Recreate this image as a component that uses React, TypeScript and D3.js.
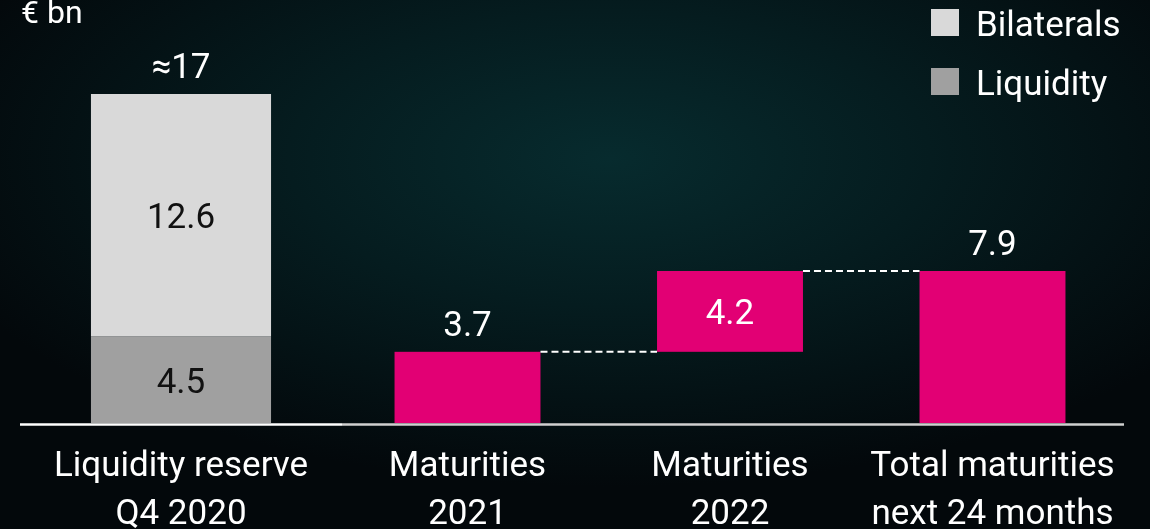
import React from "react";
import * as d3 from "d3";

const W = 1150;
const H = 529;

// ---- data ----
const reserveCategory = ["Liquidity reserve\nQ4 2020"];
const reserveLiquidity = [4.5];
const reserveBilaterals = [12.6];
const reserveTotalLabel = ["≈17"];

const maturityCategories = ["Maturities\n2021", "Maturities\n2022", "Total maturities\nnext 24 months"];
const maturityValues = [3.7, 4.2, 7.9];
const maturityIsTotal = [false, false, true];

const legendLabels = ["Bilaterals", "Liquidity"];

const C_MAGENTA = "#e20074";
const C_BILAT = "#d9d9d9";
const C_LIQ = "#a0a0a0";
const FONT = "Roboto, 'Open Sans', sans-serif";
const FW = 400;

export default function App() {
  const y = d3.scaleLinear().domain([0, 18]).range([423, 423 - 18 * 19.24]);

  const x1 = d3.scaleBand<string>().domain(reserveCategory).range([20, 342]).paddingInner(0).paddingOuter(0.394);
  const x2 = d3
    .scaleBand<string>()
    .domain(maturityCategories)
    .range([336, 1124])
    .paddingInner(0.444)
    .paddingOuter(0.223);

  // waterfall bases
  let running = 0;
  const wf = maturityCategories.map((c, i) => {
    const v = maturityValues[i];
    let base = 0;
    if (!maturityIsTotal[i]) {
      base = running;
      running += v;
    }
    return { c, v, base, top: base + v };
  });

  const fs = 35;
  const labelY1 = 476;
  const labelY2 = 524;

  const renderCatLabel = (text: string, cx: number, key: string) => {
    const lines = text.split("\n");
    return (
      <text key={key} x={cx} textAnchor="middle" fill="#ffffff" fontSize={fs} fontWeight={FW} fontFamily={FONT}>
        <tspan x={cx} y={labelY1}>{lines[0]}</tspan>
        <tspan x={cx} y={labelY2}>{lines[1]}</tspan>
      </text>
    );
  };

  const rc = reserveCategory[0];
  const rx = x1(rc)!;
  const rw = x1.bandwidth();
  const liqTop = y(reserveLiquidity[0]);
  const bilTop = y(reserveLiquidity[0] + reserveBilaterals[0]);

  return (
    <svg
      width={W}
      height={H}
      style={{ position: "fixed", left: 0, top: 0, display: "block" }}
      xmlns="http://www.w3.org/2000/svg"
    >
      <defs>
        <radialGradient id="bg" cx="53%" cy="30%" r="62%" gradientUnits="objectBoundingBox">
          <stop offset="0%" stopColor="#072b2e" />
          <stop offset="45%" stopColor="#051c1f" />
          <stop offset="100%" stopColor="#03080b" />
        </radialGradient>
      </defs>
      <rect x={0} y={0} width={W} height={H} fill="url(#bg)" />

      {/* unit */}
      <text x={21} y={23} fill="#fff" fontSize={32} fontWeight={FW} fontFamily={FONT}>€ bn</text>

      {/* legend */}
      {legendLabels.map((l, i) => (
        <g key={l}>
          <rect x={931} y={9 + i * 59} width={28} height={27} fill={i === 0 ? C_BILAT : C_LIQ} />
          <text x={976} y={36 + i * 59} fill="#fff" fontSize={fs} fontWeight={FW} fontFamily={FONT}>{l}</text>
        </g>
      ))}

      {/* reserve stacked bar */}
      <rect x={rx} y={liqTop} width={rw} height={y(0) - liqTop} fill={C_LIQ} />
      <rect x={rx} y={bilTop} width={rw} height={liqTop - bilTop} fill={C_BILAT} />
      <text x={rx + rw / 2} y={(y(0) + liqTop) / 2 + 13} textAnchor="middle" fill="#111" fontSize={fs} fontWeight={FW} fontFamily={FONT}>
        {reserveLiquidity[0].toFixed(1)}
      </text>
      <text x={rx + rw / 2} y={(liqTop + bilTop) / 2 + 13} textAnchor="middle" fill="#111" fontSize={fs} fontWeight={FW} fontFamily={FONT}>
        {reserveBilaterals[0].toFixed(1)}
      </text>
      <text x={rx + rw / 2} y={bilTop - 16} textAnchor="middle" fill="#fff" fontSize={fs} fontWeight={FW} fontFamily={FONT}>
        {reserveTotalLabel[0]}
      </text>

      {/* waterfall bars */}
      {wf.map((d, i) => {
        const bx = x2(d.c)!;
        const bw = x2.bandwidth();
        const yt = y(d.top);
        const yb = y(d.base);
        const inside = !maturityIsTotal[i] && d.base > 0;
        return (
          <g key={d.c}>
            <rect x={bx} y={yt} width={bw} height={yb - yt} fill={C_MAGENTA} />
            <text
              x={bx + bw / 2}
              y={inside ? (yt + yb) / 2 + 13 : yt - 16}
              textAnchor="middle"
              fill="#fff"
              fontSize={fs}
              fontWeight={FW}
              fontFamily={FONT}
            >
              {d.v.toFixed(1)}
            </text>
          </g>
        );
      })}

      {/* connectors */}
      {wf.slice(0, -1).map((d, i) => {
        const next = wf[i + 1];
        const xa = x2(d.c)! + x2.bandwidth();
        const xb = x2(next.c)!;
        const yy = y(d.top);
        return (
          <line key={"c" + i} x1={xa} x2={xb} y1={yy} y2={yy} stroke="#fff" strokeWidth={2} strokeDasharray="7 4" />
        );
      })}

      {/* baselines */}
      <line x1={20} x2={342} y1={424.5} y2={424.5} stroke="#ffffff" strokeWidth={2.6} />
      <line x1={342} x2={1124} y1={424.5} y2={424.5} stroke="#d0d0d0" strokeWidth={2.6} />

      {/* category labels */}
      {renderCatLabel(rc, rx + rw / 2, "l0")}
      {maturityCategories.map((c, i) => renderCatLabel(c, x2(c)! + x2.bandwidth() / 2, "l" + (i + 1)))}
    </svg>
  );
}
